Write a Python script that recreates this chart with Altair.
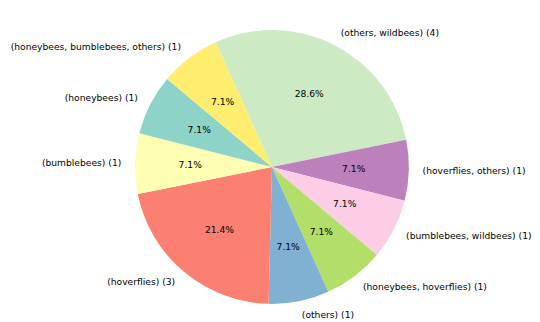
import altair as alt
import pandas as pd

labels = ["(others, wildbees)", "(hoverflies, others)", "(bumblebees, wildbees)",
          "(honeybees, hoverflies)", "(others)", "(hoverflies)", "(bumblebees)",
          "(honeybees)", "(honeybees, bumblebees, others)"]
counts = [4, 1, 1, 1, 1, 3, 1, 1, 1]
colors = ["#ccebc5", "#bc80bd", "#fccde5", "#b3de69", "#80b1d3", "#fb8072",
          "#ffffb3", "#8dd3c7", "#ffed6f"]

df = pd.DataFrame({"label": labels, "count": counts})

START = -0.424
END = START + 6.283185307

theta_scale = alt.Scale(range=[START, END])
color_scale = alt.Scale(domain=labels, range=colors)

base = alt.Chart(df).transform_window(
    idx="row_number()"
).transform_joinaggregate(
    total="sum(count)"
).transform_window(
    cum="sum(count)", sort=[alt.SortField("idx")], frame=[None, 0]
).transform_calculate(
    mid="datum.cum - datum.count / 2",
    pct="format(100 * datum.count / datum.total, '.1f') + '%'",
    text="datum.label + ' (' + datum.count + ')'",
    ang=f"{START} + 2 * PI * (datum.cum - datum.count / 2) / datum.total",
).transform_calculate(
    left="sin(datum.ang) < 0"
)

center = dict(x=alt.value(268), y=alt.value(159))
FS = 9.3

arcs = base.mark_arc(outerRadius=139).encode(
    theta=alt.Theta("count:Q", stack=True, scale=theta_scale),
    color=alt.Color("label:N", scale=color_scale, legend=None),
    order=alt.Order("idx:Q"),
    **center,
)

pcts = base.mark_text(radius=83, fontSize=FS, font="DejaVu Sans", color="black",
                      align="center", baseline="middle").encode(
    theta=alt.Theta("mid:Q", stack=False, scale=theta_scale),
    text="pct:N",
    **center,
)

lab_r = base.transform_filter("!datum.left").mark_text(
    radius=153, fontSize=FS, font="DejaVu Sans", color="black",
    align="left", baseline="middle").encode(
    theta=alt.Theta("mid:Q", stack=False, scale=theta_scale),
    text="text:N",
    **center,
)

lab_l = base.transform_filter("datum.left").mark_text(
    radius=153, fontSize=FS, font="DejaVu Sans", color="black",
    align="right", baseline="middle").encode(
    theta=alt.Theta("mid:Q", stack=False, scale=theta_scale),
    text="text:N",
    **center,
)

chart = alt.layer(arcs, pcts, lab_r, lab_l).properties(
    width=524, height=306, padding=0
).configure_view(stroke=None)

chart.save("out.html", embed_options={"renderer": "svg", "actions": False})
